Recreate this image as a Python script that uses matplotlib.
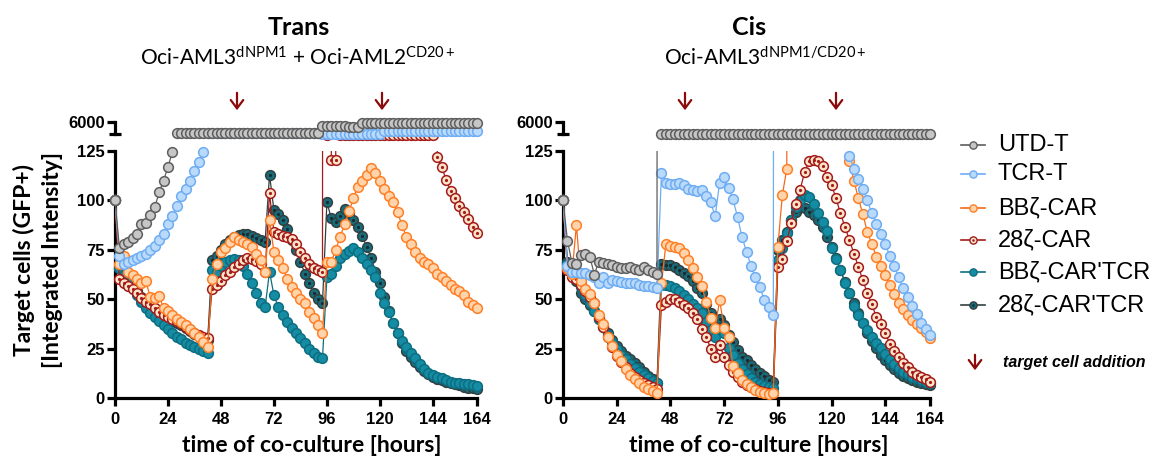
import numpy as np
import matplotlib
matplotlib.use("Agg")
import matplotlib.pyplot as plt
from matplotlib.lines import Line2D

W, H = 1175, 457

# ---------------- data (time in hours, every 2 h) ----------------
hours = list(range(0, 165, 2))
series_names = ["UTD-T", "TCR-T", "BBζ-CAR", "28ζ-CAR", "BBζ-CAR'TCR", "28ζ-CAR'TCR"]

# Trans panel (values > 125 belong to the upper, broken-axis segment)
trans_utd = [100, 76, 78, 79, 81, 83, 88, 88.5, 92.5, 96.5, 104,
             110, 117, 124.5, 4170, 4170, 4170, 4170, 4170, 4170, 4170, 4170,
             4170, 4170, 4170, 4170, 4170, 4170, 4170, 4170, 4170, 4170, 4170,
             4170, 4170, 4170, 4170, 4170, 4170, 4170, 4170, 4170, 4170, 4170,
             4170, 4170, 4170, 5330, 5330, 5330, 5330, 5330, 5330, 5250, 5250,
             5250, 5830, 5830, 5830, 5830, 5830, 5830, 5830, 5830, 5830, 5830,
             5830, 5830, 5830, 5830, 5830, 5830, 5830, 5830, 5830, 5830, 5830,
             5830, 5830, 5830, 5830, 5830, 5830]
trans_tcr = [100, 72, 68, 69, 70, 71, 72, 73, 75, 77, 80,
             83, 88, 92, 97, 102, 106, 110, 115, 119.5, 124.5, 4100,
             4100, 4100, 4100, 4100, 4100, 4100, 4100, 4100, 4100, 4100, 4100,
             4100, 4100, 4100, 4100, 4100, 4100, 4100, 4100, 4100, 4100, 4100,
             4100, 4100, 4100, 4080, 4080, 4080, 4080, 4080, 4080, 4080, 4080,
             4080, 4080, 4080, 4080, 4080, 4080, 4450, 4450, 4450, 4450, 4450,
             4450, 4450, 4450, 4450, 4450, 4450, 4450, 4450, 4450, 4450, 4450,
             4450, 4450, 4450, 4450, 4450, 4450]
trans_bbcar = [100, 68, 72, 64, 62, 60, 58, 59, 51, 50.5, 51.5,
               45.5, 44, 42, 40, 38.5, 37, 35, 33, 31, 28.5, 26,
               60, 68, 74, 76, 79, 81.5, 80, 79, 78, 76.5, 73,
               70, 64, 90, 74, 70, 66, 60, 56, 53, 50, 48,
               43.5, 40.5, 37, 33, 69, 69, 75, 81.5, 88, 94.5, 101,
               107, 110, 113, 116.5, 114, 110, 106, 102, 99, 94, 87.5,
               81.5, 78, 74, 71, 69, 68, 66, 63, 61, 59, 57,
               55, 54, 52, 48.5, 47, 45.5]
trans_28car = [100, 60, 58, 56.5, 55, 53, 50.5, 48.5, 47.5, 45.5, 43.5,
               42, 41, 40, 39, 38, 36, 34.5, 33, 32, 31, 30.5,
               55, 57, 59, 62, 64, 66.5, 68, 70, 71, 70.5, 69.5,
               68, 64, 103.5, 84, 83, 82, 81.5, 80.5, 78, 74, 71,
               68, 66, 65, 64, 3830, 120.5, 120.5, 3830, 3830, 3830, 3830,
               3830, 3830, 3830, 3830, 3830, 3830, 3830, 3830, 3830, 3830, 3830,
               3830, 3830, 3830, 3830, 3830, 3830, 3830, 122, 117, 110.5, 105,
               101, 97, 94, 90.5, 86.5, 83.5]
trans_bbcartcr = [100, 66, 62, 59, 56, 52, 48.5, 45.5, 43, 41, 39,
                  37, 35, 33, 31, 30, 28, 27, 26, 25, 24, 23,
                  65, 64, 67, 69, 70, 70.5, 70, 67, 63, 58, 53,
                  48, 46, 64, 52, 46, 42, 38.5, 35.5, 33, 30.5, 28,
                  25, 23, 21, 20, 61, 63, 67, 71, 73, 74.5, 76,
                  74, 71, 68, 65, 61, 53, 48, 43.5, 38, 33, 29,
                  26, 23, 20, 17, 14.7, 12.7, 11.6, 10.6, 10, 9, 8,
                  7.6, 7.4, 7.2, 7, 6.6, 6]
trans_28cartcr = [100, 66, 62, 59, 56, 54, 51, 48, 46, 44.5, 42.5,
                  41, 40, 39, 38, 37, 35.5, 34, 32.5, 31.5, 30.5, 29.5,
                  70, 72, 75, 78, 80, 81.5, 82.5, 83, 83, 82, 81,
                  80, 79, 113, 95, 93, 90, 85.5, 80, 75, 69, 63,
                  58, 53, 50, 48, 99, 91, 89, 92, 95.5, 93.5, 90,
                  86.5, 82, 76.5, 71, 64, 58, 51, 44, 38, 33, 28,
                  24, 21, 18, 15.7, 13.7, 12, 10.6, 9.8, 9, 8.3, 7.6,
                  7, 6.4, 5.8, 5.3, 4.9, 4.5]

# Cis panel
cis_utd = [100, 79.5, 68.5, 68, 72.5, 73, 71.5, 62.5, 69, 68.5, 68,
           67.5, 66.5, 66, 66, 66.5, 65.5, 65, 66.5, 65, 64, 63,
           4000, 4000, 4000, 4000, 4000, 4000, 4000, 4000, 4000, 4000, 4000,
           4000, 4000, 4000, 4000, 4000, 4000, 4000, 4000, 4000, 4000, 4000,
           4000, 4000, 4000, 4000, 4000, 4000, 4000, 4000, 4000, 4000, 4000,
           4000, 4000, 4000, 4000, 4000, 4000, 4000, 4000, 4000, 4000, 4000,
           4000, 4000, 4000, 4000, 4000, 4000, 4000, 4000, 4000, 4000, 4000,
           4000, 4000, 4000, 4000, 4000, 4000]
cis_tcr = [100, 67, 64, 64, 63.5, 63.5, 62.5, 61, 58, 61, 58,
           59.5, 59, 58.5, 58, 58, 58, 57, 56.5, 56.5, 56, 55.5,
           114, 109, 108.5, 108.5, 109, 108, 106, 105.5, 105, 105.5, 102,
           99, 92, 109, 112, 106.5, 100.5, 91.5, 81.5, 74, 67, 61,
           56, 49.5, 46, 42, 4000, 4000, 4000, 4000, 4000, 4000, 4000,
           4000, 4000, 4000, 4000, 4000, 4000, 4000, 4000, 4000, 122.5, 116,
           111, 106, 100, 93.5, 88, 83, 78, 72, 67, 61, 55.5,
           51, 46.5, 42.5, 38, 35, 32]
cis_bbcar = [100, 66, 63, 87.5, 59, 55, 52.5, 48, 42, 37.5, 31,
             26.5, 22, 18.5, 14.5, 11.5, 9.5, 7.5, 5.7, 4.5, 3.4, 2.6,
             58, 78, 77, 76.5, 76, 73.5, 70, 66, 61, 56.5, 48.5,
             40.5, 35.5, 49.5, 35.5, 31, 16, 12.5, 9, 7, 5.5, 4,
             3, 2.6, 2, 2.4, 76.5, 102.5, 116, 4000, 4000, 4000, 4000,
             4000, 4000, 4000, 4000, 4000, 4000, 4000, 4000, 4000, 120, 110,
             101, 93, 84, 78, 71.5, 67, 62, 57, 52.5, 48, 45,
             42, 39.5, 37.5, 35.5, 33.5, 30.5]
cis_28car = [100, 65, 61, 60, 57, 54, 51, 48, 41, 36, 31,
             26, 21.5, 18, 15.5, 12.5, 10.5, 9, 7.6, 6.6, 5.6, 4.6,
             47, 48.5, 50, 50, 48.5, 47, 45.5, 43, 40, 35, 31,
             25, 20.5, 27, 21, 16.5, 13, 10.5, 8, 6.6, 5.6, 4.6,
             3.6, 3, 2.6, 2.5, 66.5, 70.5, 79.5, 88.5, 98, 105.5, 114.5,
             120, 120.5, 120, 117.5, 112, 108, 101, 93.5, 86.5, 80, 73,
             66.5, 59.5, 53, 47.5, 41, 37.5, 33, 27.5, 24, 20.5, 17.5,
             15.5, 13, 11.5, 10.5, 9.5, 8.2]
cis_bbcartcr = [100, 68, 64, 60, 56, 52, 48, 44, 40, 36, 32,
                28.5, 25, 22, 19.5, 17, 15, 13, 11.5, 10, 8.5, 7.5,
                57, 57, 56.5, 55.5, 54, 52, 50, 47.5, 45.5, 43, 38.5,
                34.5, 31, 35, 33, 25.5, 22, 17.5, 14.5, 12, 10, 8.2,
                7, 6, 5.5, 5, 70, 76, 83.5, 90, 96.5, 100, 102.5,
                101.5, 98, 93.5, 89, 84.5, 76, 70.5, 65, 58, 53, 46.5,
                42, 38, 34.5, 31, 28, 25.5, 22.5, 19.5, 17, 15, 13.2,
                12, 10.6, 10, 9, 8.2, 7.5]
cis_28cartcr = [100, 69, 63, 59, 53, 50, 47, 44, 40, 36.5, 33,
                29.5, 26.5, 24, 21.5, 19.5, 17.5, 15.7, 13.2, 11, 9.4, 7.6,
                68, 67.5, 67.5, 66.5, 65, 63.5, 61.5, 59, 55.5, 53, 47.5,
                43, 39, 40, 37, 32, 28.5, 24.5, 21, 19, 16.5, 14.5,
                12.5, 11, 9, 8.2, 75, 80, 84, 90, 94, 96.5, 96,
                94, 92.5, 90, 86.5, 81.5, 76.5, 71, 65, 58.5, 53, 48,
                43, 38, 33, 29, 25.5, 22, 19, 16.5, 14.5, 12.5, 11,
                10, 9, 8.2, 7.4, 7, 6.6]

trans_data = [trans_utd, trans_tcr, trans_bbcar, trans_28car, trans_bbcartcr, trans_28cartcr]
cis_data = [cis_utd, cis_tcr, cis_bbcar, cis_28car, cis_bbcartcr, cis_28cartcr]

x_ticks = [0, 24, 48, 72, 96, 120, 144, 164]
y_ticks = [0, 25, 50, 75, 100, 125]
break_value = 125

# ---------------- styles ----------------
styles = [
    dict(face="#C6C6C6", edge="#5E5E5E", line="#5E5E5E", dot=None),
    dict(face="#B9DAFB", edge="#6FADF3", line="#6FADF3", dot=None),
    dict(face="#FFD4AA", edge="#FF7F27", line="#F26A1B", dot=None),
    dict(face="#FCE4C8", edge="#A31B1B", line="#A31B1B", dot="#A31B1B"),
    dict(face="#148DA4", edge="#0E6D80", line="#0E6D80", dot=None),
    dict(face="#176C7C", edge="#33403F", line="#33403F", dot="#1B2A2D"),
]
zbase = [9, 8, 7, 6, 5, 4]

TICKFONT = "Liberation Sans"
TITLEFONT = "Lato"
plt.rcParams["mathtext.fontset"] = "custom"
plt.rcParams["mathtext.rm"] = "Lato"
plt.rcParams["mathtext.it"] = "Lato:italic"
plt.rcParams["mathtext.bf"] = "Lato:bold"

fig = plt.figure(figsize=(W / 100, H / 100), dpi=100)


def add_ax(x0, y0, x1, y1):
    return fig.add_axes([x0 / W, 1 - y1 / H, (x1 - x0) / W, (y1 - y0) / H])


MS = 7.0
TICKSIZE = 12


def draw_series(ax_lo, ax_up, t, vals, st, z):
    t = np.asarray(t, float)
    v = np.asarray(vals, float)
    lo = v <= break_value
    ax_lo.plot(t, v, color=st["line"], lw=0.9, zorder=z, clip_on=True)
    ax_lo.plot(t[lo], v[lo], ls="none", marker="o", ms=MS, mfc=st["face"],
               mec=st["edge"], mew=1.1, zorder=z + 0.1, clip_on=False)
    up = np.where(v > break_value, v, np.nan)
    ax_up.plot(t, up, color=st["line"], lw=0.9, marker="o", ms=MS, mfc=st["face"],
               mec=st["edge"], mew=1.1, zorder=z, clip_on=False)
    if st["dot"]:
        ax_lo.plot(t[lo], v[lo], ls="none", marker="o", ms=2.3, mfc=st["dot"],
                   mec=st["dot"], mew=0, zorder=z + 0.2, clip_on=False)
        ax_up.plot(t, up, ls="none", marker="o", ms=2.3, mfc=st["dot"],
                   mec=st["dot"], mew=0, zorder=z + 0.2, clip_on=False)


def style_axes(ax_lo, ax_up):
    for ax in (ax_lo, ax_up):
        ax.set_xlim(0, 164)
        ax.patch.set_alpha(0)
        for s in ("top", "right"):
            ax.spines[s].set_visible(False)
        ax.spines["left"].set_linewidth(2.3)
        ax.spines["bottom"].set_linewidth(2.3)
    ax_lo.set_ylim(0, 125)
    ax_lo.set_xticks(x_ticks)
    ax_lo.set_yticks(y_ticks)
    ax_lo.tick_params(axis="both", direction="out", length=6, width=2.3)
    ax_lo.tick_params(axis="x", pad=4)
    ax_lo.tick_params(axis="y", pad=1.5)
    for lab in ax_lo.get_xticklabels() + ax_lo.get_yticklabels():
        lab.set_fontfamily(TICKFONT)
        lab.set_fontweight("bold")
        lab.set_fontsize(TICKSIZE)
    ax_up.set_ylim(4000, 6000)
    ax_up.spines["bottom"].set_visible(False)
    ax_up.set_xticks([])
    ax_up.set_yticks([6000])
    ax_up.set_yticks([4000], minor=True)
    ax_up.tick_params(axis="y", which="major", direction="out", length=6, width=2.3, pad=1.5)
    ax_up.tick_params(axis="y", which="minor", direction="inout", length=8, width=2.3)
    for lab in ax_up.get_yticklabels():
        lab.set_fontfamily(TICKFONT)
        lab.set_fontweight("bold")
        lab.set_fontsize(TICKSIZE)


panels = [
    dict(x0=115, x1=477, data=trans_data, arrows=(237, 382)),
    dict(x0=563, x1=930, data=cis_data, arrows=(685, 836)),
]

for p in panels:
    ax_lo = add_ax(p["x0"], 151, p["x1"], 398)
    ax_up = add_ax(p["x0"], 122, p["x1"], 134)
    style_axes(ax_lo, ax_up)
    for vals, st, z in zip(p["data"], styles, zbase):
        draw_series(ax_lo, ax_up, hours, vals, st, z)
    for xa in p["arrows"]:
        fig.add_artist(matplotlib.patches.FancyArrowPatch(
            (xa / W, 1 - 90 / H), (xa / W, 1 - 113 / H), transform=fig.transFigure,
            arrowstyle="->,head_length=0.6,head_width=0.45", mutation_scale=10,
            color="#8B0A0A", lw=1.6))

# titles
fig.text(299 / W, 1 - 35 / H, "Trans", ha="center", va="baseline",
         fontfamily=TITLEFONT, fontweight="bold", fontsize=18)
fig.text(298 / W, 1 - 65 / H, r"Oci-AML3$^{\mathrm{dNPM1}}$ + Oci-AML2$^{\mathrm{CD20+}}$",
         ha="center", va="baseline", fontfamily=TITLEFONT, fontsize=15)
fig.text(749 / W, 1 - 35 / H, "Cis", ha="center", va="baseline",
         fontfamily=TITLEFONT, fontweight="bold", fontsize=18)
fig.text(765 / W, 1 - 65 / H, r"Oci-AML3$^{\mathrm{dNPM1/CD20+}}$",
         ha="center", va="baseline", fontfamily=TITLEFONT, fontsize=15)

# axis labels
fig.text(38 / W, 1 - 260 / H, "Target cells (GFP+)\n[Integrated Intensity]",
         rotation=90, ha="center", va="center", fontfamily=TITLEFONT,
         fontweight="bold", fontsize=16.5, linespacing=1.45)
for xc in (312, 759):
    fig.text(xc / W, 1 - 452 / H, "time of co-culture [hours]", ha="center", va="baseline",
             fontfamily=TITLEFONT, fontweight="bold", fontsize=16.5)

# legend (manual)
leg_y = [145, 174, 208, 240, 272, 305]
for name, st, yy in zip(series_names, styles, leg_y):
    yf = 1 - yy / H
    fig.add_artist(Line2D([961 / W, 985 / W], [yf, yf], transform=fig.transFigure,
                          color=st["line"], lw=1.2))
    fig.add_artist(Line2D([973 / W], [yf], transform=fig.transFigure, ls="none",
                          marker="o", ms=5.2, mfc=st["face"], mec=st["edge"], mew=1.0))
    if st["dot"]:
        fig.add_artist(Line2D([973 / W], [yf], transform=fig.transFigure, ls="none",
                              marker="o", ms=1.8, mfc=st["dot"], mec=st["dot"], mew=0))
    fig.text(998 / W, yf, name, ha="left", va="center", fontfamily=TICKFONT, fontsize=17)

fig.add_artist(matplotlib.patches.FancyArrowPatch(
    (975 / W, 1 - 352 / H), (975 / W, 1 - 373 / H), transform=fig.transFigure,
    arrowstyle="->,head_length=0.6,head_width=0.45", mutation_scale=10,
    color="#8B0A0A", lw=1.6))
fig.text(1003 / W, 1 - 362 / H, "target cell addition", ha="left", va="center",
         fontfamily=TICKFONT, fontweight="bold", fontstyle="italic", fontsize=11.5)

fig.savefig("out.png", dpi=100)
